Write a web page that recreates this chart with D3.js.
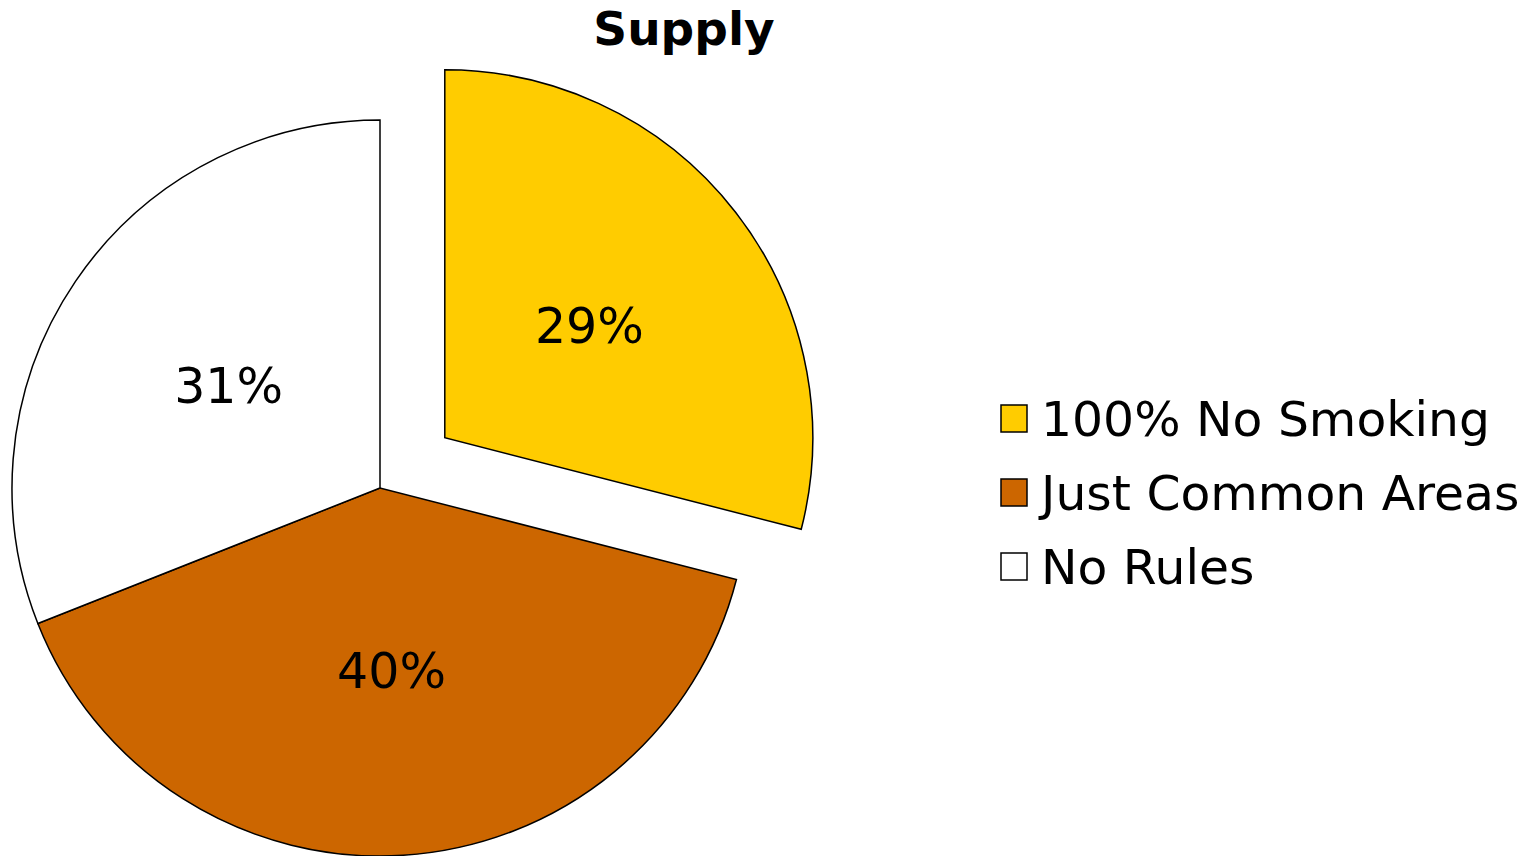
<!DOCTYPE html>
<html><head><meta charset="utf-8">
<script src="https://cdn.jsdelivr.net/npm/d3@7"></script>
<style>html,body{margin:0;padding:0;background:#fff}</style>
</head><body>
<svg id="chart" width="1540" height="856"></svg>
<script>
const categories = ["100% No Smoking", "Just Common Areas", "No Rules"];
const values = [29, 40, 31];
const colors = ["#FFCC00", "#CC6600", "#FFFFFF"];
const exploded = [true, false, false];
const title = "Supply";

const svg = d3.select("#chart");
const font = "'DejaVu Sans', Verdana, sans-serif";
const cx = 380, cy = 488, R = 368, explode = 82, labelR = 183;

svg.append("text").attr("x", 684).attr("y", 45).attr("text-anchor", "middle")
  .attr("font-family", font).attr("font-weight", "bold").attr("font-size", 47)
  .text(title);

const pie = d3.pie().sort(null).value(d => d)(values);
const arc = d3.arc().innerRadius(0).outerRadius(R);
const labelArc = d3.arc().innerRadius(labelR).outerRadius(labelR);

const g = svg.append("g").attr("transform", `translate(${cx},${cy})`);
const slices = g.selectAll("g.slice").data(pie).join("g")
  .attr("transform", (d, i) => {
    if (!exploded[i]) return null;
    const a = (d.startAngle + d.endAngle) / 2;
    return `translate(${explode * Math.sin(a)},${-explode * Math.cos(a)})`;
  });
slices.append("path").attr("d", arc)
  .attr("fill", (d, i) => colors[i]).attr("stroke", "#000").attr("stroke-width", 1.5);
slices.append("text")
  .attr("transform", d => `translate(${labelArc.centroid(d)})`)
  .attr("dy", "0.36em").attr("text-anchor", "middle")
  .attr("font-family", font).attr("font-size", 49)
  .text(d => d.data + "%");

const leg = svg.append("g");
const rows = leg.selectAll("g").data(categories).join("g")
  .attr("transform", (d, i) => `translate(1001,${405 + i * 74})`);
rows.append("rect").attr("width", 26).attr("height", 27)
  .attr("fill", (d, i) => colors[i]).attr("stroke", "#000").attr("stroke-width", 1.5);
rows.append("text").attr("x", 40).attr("y", 31)
  .attr("font-family", font).attr("font-size", 48.8).text(d => d);
</script>
</body></html>
